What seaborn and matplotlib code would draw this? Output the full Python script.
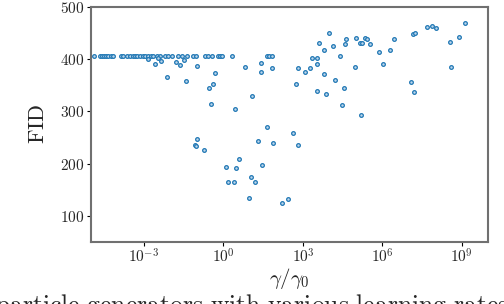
import numpy as np
import pandas as pd
import matplotlib
matplotlib.use("Agg")
import matplotlib.pyplot as plt
import seaborn as sns
from matplotlib.ticker import FuncFormatter

# log10 of gamma/gamma_0 and the FID reached
top_row_log_ratio = [
    -4.89, -4.66, -4.60, -4.51, -4.43, -4.35, -4.26, -4.16, -3.88, -3.80,
    -3.63, -3.53, -3.43, -3.34, -3.25, -3.15, -3.05, -2.95, -2.84, -2.75,
    -2.65, -2.52, -2.40, -2.21, -2.08, -1.95, -1.70, -1.58, -1.39, -1.14,
    -1.04, -0.70, -0.57, -0.44, -0.22, -0.13, -0.04, 0.31, 1.65, 1.73, 1.82,
]
top_row_fid = [406] * len(top_row_log_ratio)

other_log_ratio = [
    -2.84, -2.58, -2.46, -2.37, -2.12, -1.79, -1.64, -1.49, -1.42, -1.01,
    -0.54, -0.41, -0.32, -0.46, -1.01, -1.09, -1.03, -0.75, 0.42, 0.81,
    1.09, 1.42, 1.42, 1.82, 1.63, 1.29, 1.86, 1.44, 0.58, 0.48,
    0.08, 0.16, 0.40, 1.05, 1.20, 0.97, 2.22, 2.43, 2.61, 2.82,
    2.82, 2.74, 3.09, 3.26, 3.33, 3.52, 3.52, 3.60, 3.78, 3.98,
    4.12, 3.81, 3.52, 3.86, 4.20, 4.40, 4.57, 4.64, 4.54, 4.47,
    4.96, 4.99, 5.15, 5.24, 5.34, 5.43, 5.53, 5.20, 5.87, 6.03,
    6.28, 6.42, 7.08, 7.21, 7.16, 7.23, 7.70, 7.88, 8.04, 8.54,
    8.60, 8.88, 9.11,
]
other_fid = [
    399, 390, 401, 397, 366, 395, 389, 398, 357, 387,
    345, 352, 373, 313, 246, 236, 234, 226, 305, 385,
    330, 392, 375, 383, 269, 243, 240, 198, 209, 191,
    193, 165, 165, 175, 164, 135, 125, 133, 259, 235,
    383, 352, 375, 383, 401, 401, 390, 430, 417, 450,
    425, 371, 339, 333, 360, 405, 428, 439, 345, 312,
    385, 440, 431, 431, 441, 438, 429, 292, 414, 390,
    417, 439, 356, 336, 447, 450, 461, 464, 459, 433,
    384, 442, 469,
]

df = pd.DataFrame({
    "ratio": 10 ** np.array(top_row_log_ratio + other_log_ratio),
    "fid": top_row_fid + other_fid,
})

sns.set_style("ticks")
plt.rcParams["mathtext.fontset"] = "cm"
plt.rcParams["font.family"] = ["DejaVu Serif"]

fig = plt.figure(figsize=(5.04, 3.04), dpi=100)
ax = fig.add_axes([0.1806, 0.204, 0.7883, 0.774])

sns.scatterplot(data=df, x="ratio", y="fid", ax=ax, s=7,
                facecolor="#bcd6ec", edgecolor="#1f77b4", linewidth=0.9)

ax.set_xscale("log")
ax.set_xlim(1e-5, 1e10)
ax.set_ylim(50, 500)
ax.set_xticks([1e-3, 1e0, 1e3, 1e6, 1e9])
ax.xaxis.set_minor_locator(matplotlib.ticker.NullLocator())
ax.set_yticks([100, 200, 300, 400, 500])
ax.xaxis.set_major_formatter(FuncFormatter(lambda v, p: r"$10^{%d}$" % round(np.log10(v))))
ax.yaxis.set_major_formatter(FuncFormatter(lambda v, p: r"$%d$" % v))
ax.tick_params(labelsize=11, length=3, width=0.8, color="black", pad=2)
ax.tick_params(axis="x", pad=1)

for sp in ax.spines.values():
    sp.set_color("#707070")
    sp.set_linewidth(1.5)

ax.set_xlabel(r"$\gamma/\gamma_0$", fontsize=15, labelpad=0)
ax.set_ylabel(r"$\mathrm{FID}$", fontsize=16, labelpad=8)

# caption of the source figure, cut off at the bottom edge
fig.text(0.5, -0.03, r"$\mathrm{particle\ generators\ with\ various\ learning\ rates}$",
         ha="center", va="baseline", fontsize=18.5)

fig.savefig("out.png", dpi=100)
